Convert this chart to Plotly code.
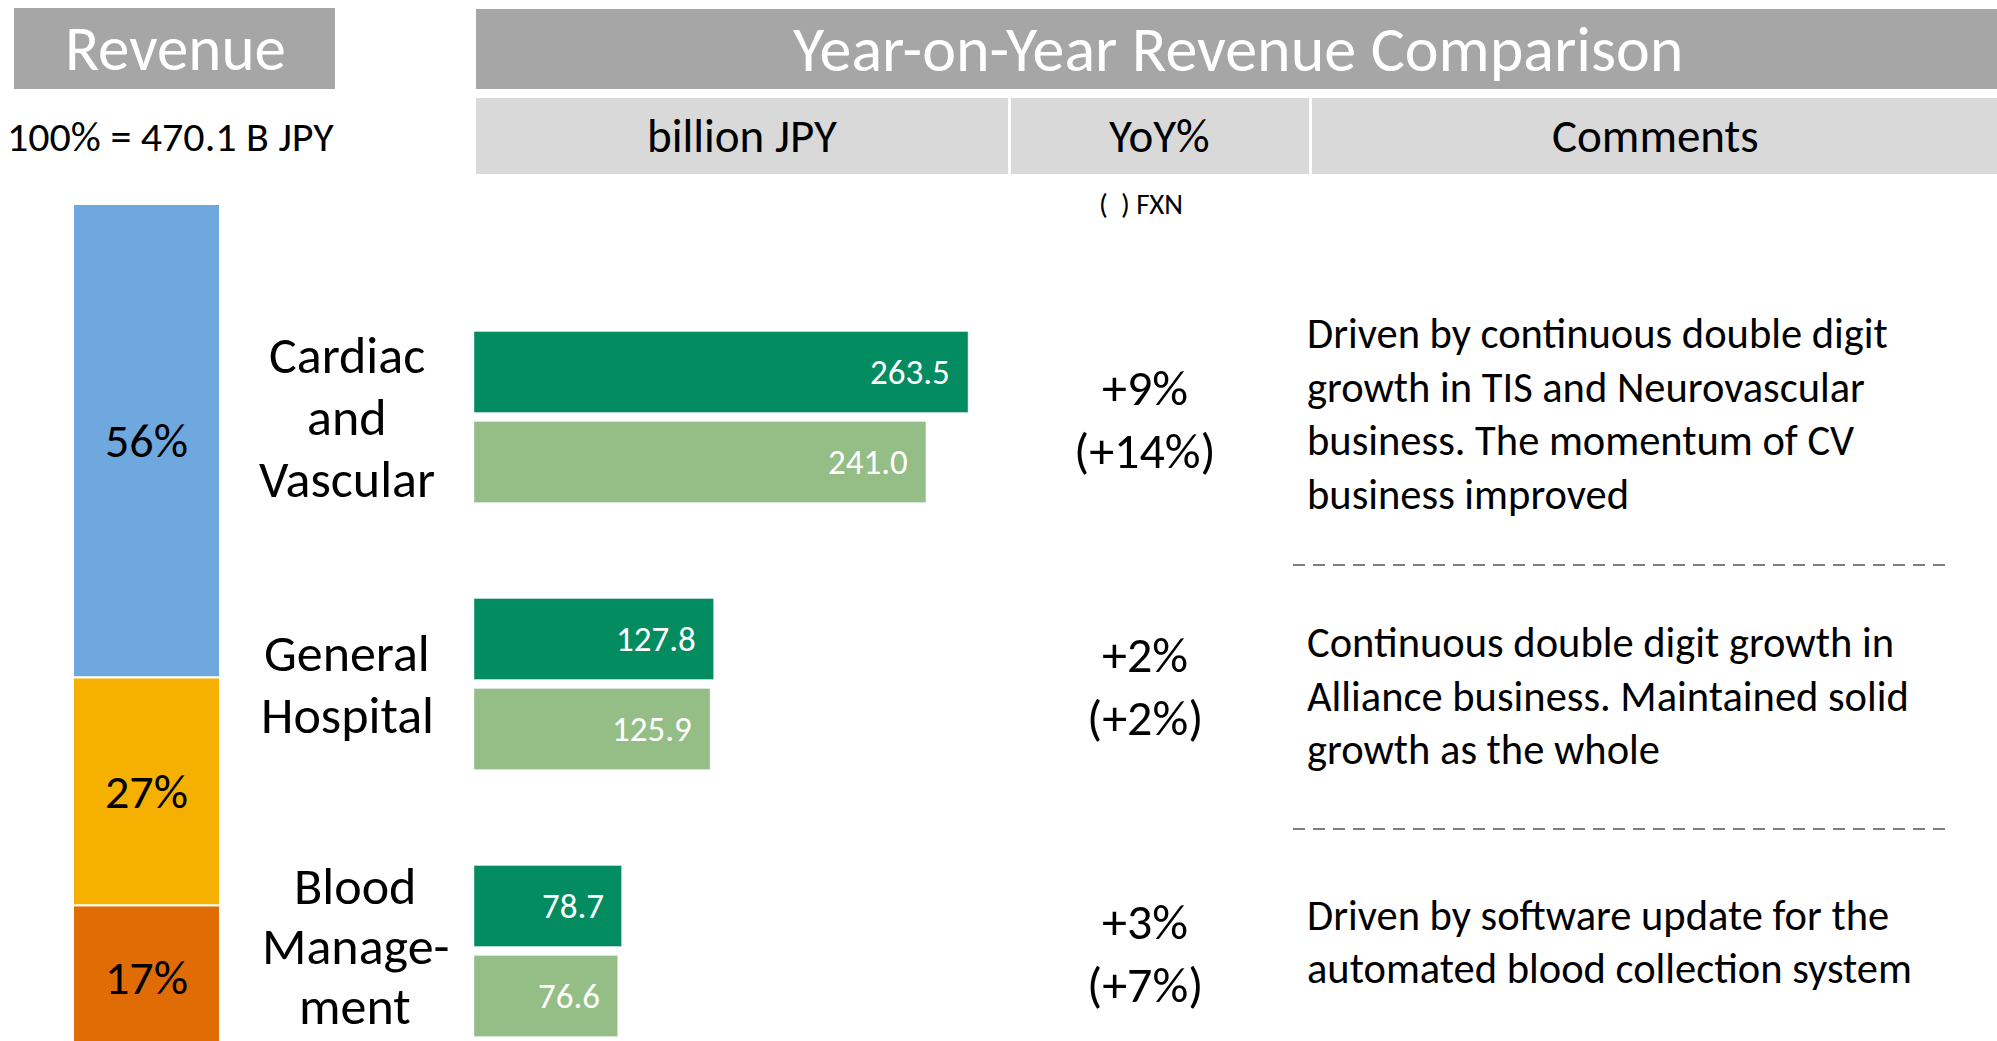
import plotly.graph_objects as go

# ---------------- data ----------------
segments = ["Cardiac and Vascular", "General Hospital", "Blood Management"]
segment_label_lines = [["Cardiac", "and", "Vascular"], ["General", "Hospital"], ["Blood", "Manage-", "ment"]]
share_pct = [56, 27, 17]
revenue_current = [263.5, 127.8, 78.7]
revenue_prior = [241.0, 125.9, 76.6]
yoy_pct = [9, 2, 3]
yoy_fxn_pct = [14, 2, 7]
comments = [
    ["Driven by continuous double digit", "growth in TIS and Neurovascular",
     "business. The momentum of CV", "business improved"],
    ["Continuous double digit growth in", "Alliance business. Maintained solid",
     "growth as the whole"],
    ["Driven by software update for the", "automated blood collection system"],
]
total_label = "100% = 470.1 B JPY"
left_header = "Revenue"
right_header = "Year-on-Year Revenue Comparison"
col_headers = ["billion JPY", "YoY%", "Comments"]
fxn_note = "(\u00a0\u00a0) FXN"

# ---------------- style ----------------
FONT = "Carlito, Lato, sans-serif"
WEIGHT = 500
OX, OY = 0, 0          # body margin removed by post_script
W, H = 1997, 1041
C_HEAD = "#A6A6A6"
C_SUB = "#D9D9D9"
C_SHARE = ["#6EA8DF", "#F6B000", "#DF6C05"]
C_CUR = "#038C5F"
C_PRI = "#94BE85"


def px(x):
    return (x - OX) / W


def py(y):
    return 1 - (y - OY) / H


fig = go.Figure()

# grouped horizontal bars (current on top, prior below)
fig.add_trace(go.Bar(y=segments, x=revenue_current, orientation="h", marker_color=C_CUR,
                     name="Current", xaxis="x", yaxis="y", hoverinfo="x"))
fig.add_trace(go.Bar(y=segments, x=revenue_prior, orientation="h", marker_color=C_PRI,
                     name="Prior", xaxis="x", yaxis="y", hoverinfo="x"))

# stacked revenue-share bar (bottom segment first)
base = 0
for i in reversed(range(len(segments))):
    fig.add_trace(go.Bar(x=[0], y=[share_pct[i]], base=[base], width=[1], offsetgroup="share",
                         marker=dict(color=C_SHARE[i], line=dict(color="white", width=2)),
                         text=[f"{share_pct[i]}%"], textposition="inside", insidetextanchor="middle",
                         textfont=dict(size=48, color="black", family=FONT, weight=WEIGHT),
                         xaxis="x2", yaxis="y2", hoverinfo="y"))
    base += share_pct[i]

BAR_PX_PER_UNIT = 1.875
x_right = 1000
bottom_px = OY + H
fig.update_layout(
    width=W, height=H, margin=dict(l=0, r=0, t=0, b=0, autoexpand=False),
    paper_bgcolor="white", plot_bgcolor="rgba(0,0,0,0)", showlegend=False,
    barmode="group", bargap=0.326, bargroupgap=0.1,
    font=dict(family=FONT, color="black"),
    xaxis=dict(domain=[px(474), px(x_right)], range=[0, (x_right - 474) / BAR_PX_PER_UNIT],
               visible=False, fixedrange=True),
    yaxis=dict(domain=[0, py(283.5)], range=[-0.5 + (bottom_px - 283.5) / 267, -0.5], type="category",
               categoryorder="array", categoryarray=segments, visible=False, fixedrange=True),
    xaxis2=dict(domain=[px(73), px(220)], range=[-0.5, 0.5], anchor="y2", visible=False, fixedrange=True),
    yaxis2=dict(domain=[0, py(204)], range=[(1049 - bottom_px) / 8.45, 100], anchor="x2",
                visible=False, fixedrange=True),
)

shapes = []
# header boxes
shapes.append(dict(type="rect", xref="paper", yref="paper", x0=px(14), x1=px(335), y0=py(89), y1=py(8),
                   fillcolor=C_HEAD, line=dict(width=0), layer="below"))
shapes.append(dict(type="rect", xref="paper", yref="paper", x0=px(476), x1=1, y0=py(89), y1=py(9),
                   fillcolor=C_HEAD, line=dict(width=0), layer="below"))
cells = [(476, 1008), (1011, 1309), (1312, 1997)]
for a, b in cells:
    shapes.append(dict(type="rect", xref="paper", yref="paper", x0=px(a), x1=px(b), y0=py(174), y1=py(98),
                       fillcolor=C_SUB, line=dict(width=0), layer="below"))
# dashed separators
for yy in (565, 829):
    shapes.append(dict(type="line", xref="paper", yref="paper", x0=px(1293), x1=px(1949), y0=py(yy), y1=py(yy),
                       line=dict(color="#7F7F7F", width=2, dash="12px,8px")))

ann = []


def text(x, y, s, size, color="black", xanchor="center", **kw):
    d = dict(x=x, y=y, text=s, showarrow=False, xanchor=xanchor, yanchor="middle",
             font=dict(size=size, color=color, family=FONT, weight=WEIGHT))
    d.update(kw)
    ann.append(d)


text(px(175), py(49), left_header, 63, "white", xref="paper", yref="paper")
text(px(1238), py(49), right_header, 64, "white", xref="paper", yref="paper")
col_centers = [742, 1159, 1655]
for cx, s in zip(col_centers, col_headers):
    text(px(cx), py(136), s, 47, xref="paper", yref="paper")
text(px(170), py(137), total_label, 42, xref="paper", yref="paper")
text(px(1141), py(204), fxn_note, 29, xref="paper", yref="paper")

label_centers = [347, 347, 355]
label_spacing = [62, 62, 60]
label_shift = [0, 0, 5]
comment_shift = [3, -12, 9]
for i, seg in enumerate(segments):
    # bar value labels
    text(revenue_current[i], seg, f"{revenue_current[i]:.1f}", 35, "white", xanchor="right",
         xref="x", yref="y", xshift=-16, yshift=45)
    text(revenue_prior[i], seg, f"{revenue_prior[i]:.1f}", 35, "white", xanchor="right",
         xref="x", yref="y", xshift=-16, yshift=-45)
    # segment names
    lines = segment_label_lines[i]
    n = len(lines)
    for k, ln in enumerate(lines):
        text(px(label_centers[i]), seg, ln, 52, xref="paper", yref="y",
             yshift=((n - 1) / 2 - k) * label_spacing[i] + label_shift[i])
    # YoY
    text(px(1145), seg, f"+{yoy_pct[i]}%", 50, xref="paper", yref="y", yshift=30)
    text(px(1145), seg, f"(+{yoy_fxn_pct[i]}%)", 50, xref="paper", yref="y", yshift=-33)
    # comments
    cl = comments[i]
    m = len(cl)
    for k, ln in enumerate(cl):
        text(px(1305), seg, ln, 42.5, xanchor="left", xref="paper", yref="y",
             yshift=((m - 1) / 2 - k) * 53.5 + comment_shift[i])

fig.update_layout(shapes=shapes, annotations=ann)
fig.write_html("out.html", config={"displayModeBar": False},
               post_script="document.body.style.margin='0';document.body.style.overflow='hidden';")
